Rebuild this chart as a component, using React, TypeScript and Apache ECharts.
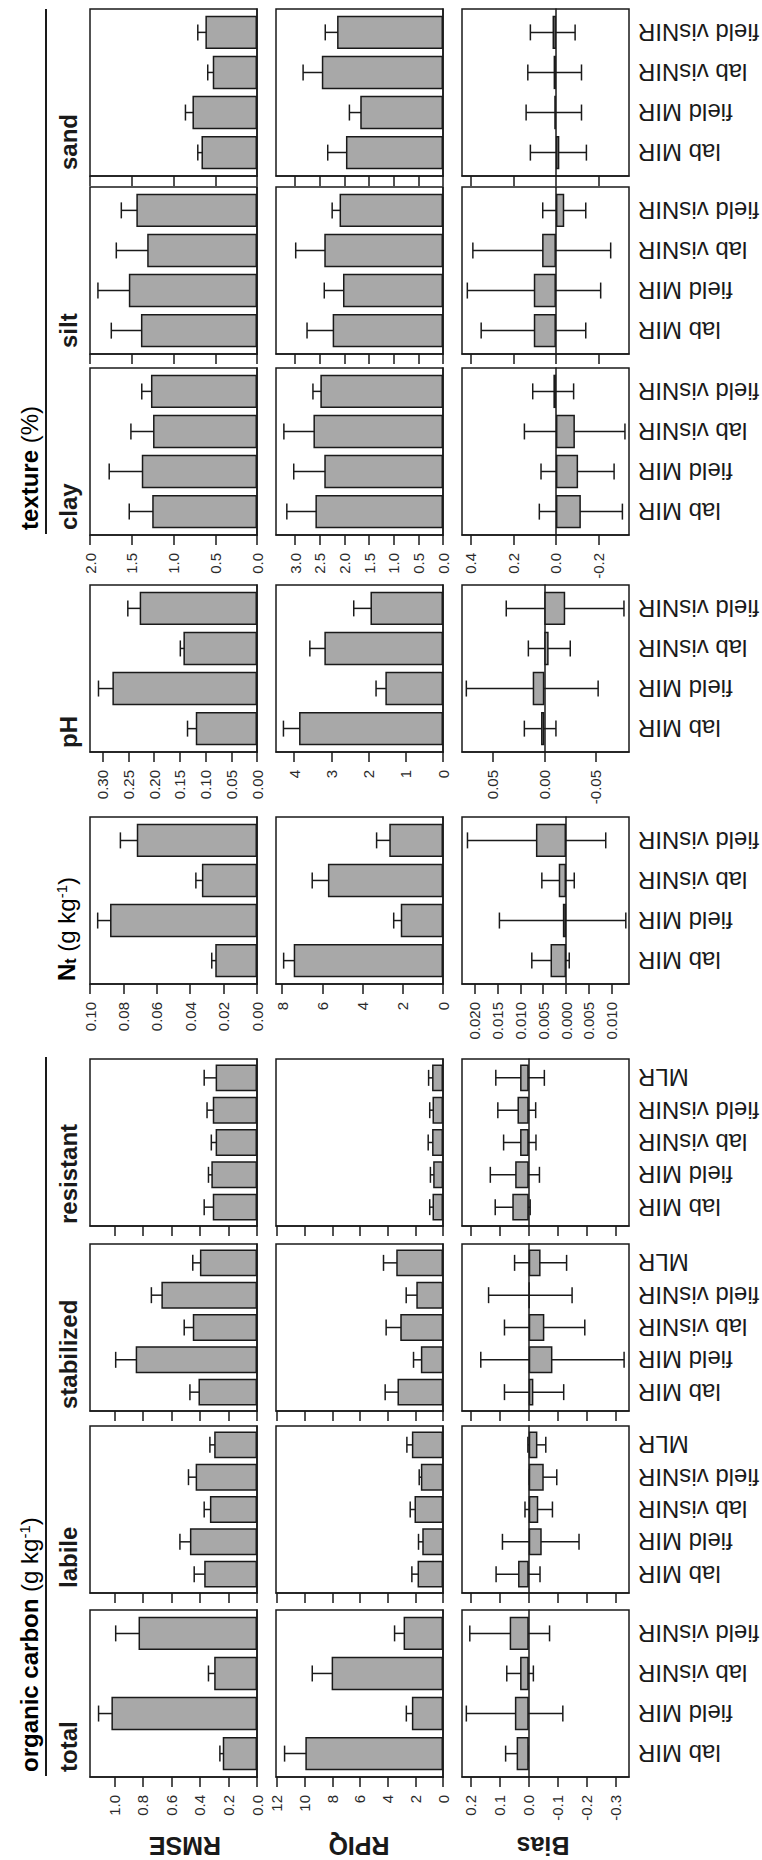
import React, { useEffect, useRef } from "react";
import * as echarts from "echarts";

const FONT = "'Liberation Sans', Arial, Helvetica, sans-serif";
const INK = "#1a1a1a";
const BAR = "#a8a8a8";

// ---------- categories ----------
const catsOC = ["lab MIR", "field MIR", "lab visNIR", "field visNIR", "MLR"];
const cats4 = ["lab MIR", "field MIR", "lab visNIR", "field visNIR"];

// ---------- organic carbon: total ----------
const totalRMSE = [0.24, 1.02, 0.3, 0.83];
const totalRMSEErr = [[0.21, 0.26], [0.93, 1.11], [0.25, 0.34], [0.68, 0.99]];
const totalRPIQ = [9.95, 2.25, 8.05, 2.85];
const totalRPIQErr = [[8.5, 11.45], [1.95, 2.65], [7.3, 9.45], [2.2, 3.5]];
const totalBias = [0.042, 0.048, 0.03, 0.066];
const totalBiasErr = [[0.003, 0.08], [-0.118, 0.216], [-0.016, 0.076], [-0.072, 0.204]];

// ---------- organic carbon: labile ----------
const labileRMSE = [0.37, 0.47, 0.33, 0.43, 0.3];
const labileRMSEErr = [[0.3, 0.44], [0.39, 0.54], [0.29, 0.37], [0.38, 0.48], [0.27, 0.33]];
const labileRPIQ = [1.84, 1.5, 2.06, 1.6, 2.25];
const labileRPIQErr = [[1.48, 2.25], [1.16, 1.77], [1.72, 2.37], [1.45, 1.72], [1.88, 2.61]];
const labileBias = [0.037, -0.045, -0.033, -0.052, -0.03];
const labileBiasErr = [[-0.039, 0.113], [-0.174, 0.091], [-0.082, 0.013], [-0.097, -0.002], [-0.059, 0.003]];

// ---------- organic carbon: stabilized ----------
const stabRMSE = [0.41, 0.85, 0.45, 0.67, 0.4];
const stabRMSEErr = [[0.34, 0.47], [0.71, 0.99], [0.39, 0.51], [0.61, 0.74], [0.35, 0.45]];
const stabRPIQ = [3.29, 1.6, 3.09, 1.93, 3.38];
const stabRPIQErr = [[2.37, 4.18], [1.09, 2.13], [1.93, 4.11], [1.28, 2.66], [2.3, 4.3]];
const stabBias = [-0.016, -0.082, -0.054, -0.003, -0.041];
const stabBiasErr = [[-0.121, 0.084], [-0.33, 0.166], [-0.194, 0.084], [-0.15, 0.139], [-0.131, 0.049]];

// ---------- organic carbon: resistant ----------
const resRMSE = [0.31, 0.32, 0.29, 0.31, 0.29];
const resRMSEErr = [[0.25, 0.37], [0.3, 0.34], [0.25, 0.32], [0.26, 0.35], [0.23, 0.37]];
const resRPIQ = [0.76, 0.71, 0.79, 0.76, 0.79];
const resRPIQErr = [[0.55, 0.96], [0.5, 0.91], [0.6, 1.07], [0.55, 0.96], [0.55, 1.04]];
const resBias = [0.057, 0.047, 0.03, 0.039, 0.03];
const resBiasErr = [[-0.005, 0.116], [-0.037, 0.133], [-0.025, 0.087], [-0.024, 0.107], [-0.054, 0.114]];

// ---------- total nitrogen ----------
const ntRMSE = [0.025, 0.088, 0.033, 0.072];
const ntRMSEErr = [[0.0236, 0.0271], [0.0806, 0.0954], [0.0297, 0.0366], [0.0628, 0.0818]];
const ntRPIQ = [7.42, 2.1, 5.72, 2.67];
const ntRPIQErr = [[6.93, 7.92], [1.83, 2.45], [4.93, 6.5], [2.08, 3.3]];
const ntBias = [0.0034, 0.0007, 0.0016, 0.0066];
const ntBiasErr = [[-0.0007, 0.0075], [-0.0131, 0.0146], [-0.0018, 0.0053], [-0.0087, 0.0216]];

// ---------- pH ----------
const phRMSE = [0.119, 0.281, 0.143, 0.228];
const phRMSEErr = [[0.101, 0.135], [0.254, 0.308], [0.136, 0.149], [0.206, 0.251]];
const phRPIQ = [3.87, 1.55, 3.19, 1.95];
const phRPIQErr = [[3.43, 4.29], [1.3, 1.8], [2.81, 3.58], [1.6, 2.4]];
const phBias = [0.0032, 0.0113, -0.0042, -0.0203];
const phBiasErr = [[-0.0113, 0.0194], [-0.0523, 0.0758], [-0.0252, 0.0155], [-0.0774, 0.037]];

// ---------- texture: clay ----------
const clayRMSE = [1.255, 1.38, 1.245, 1.27];
const clayRMSEErr = [[0.99, 1.53], [1.0, 1.77], [0.96, 1.51], [1.135, 1.38]];
const clayRPIQ = [2.59, 2.41, 2.63, 2.49];
const clayRPIQErr = [[2.01, 3.17], [1.8, 3.03], [2.03, 3.23], [2.35, 2.64]];
const clayBias = [-0.117, -0.104, -0.089, 0.012];
const clayBiasErr = [[-0.312, 0.078], [-0.273, 0.07], [-0.324, 0.148], [-0.083, 0.109]];

// ---------- texture: silt ----------
const siltRMSE = [1.39, 1.535, 1.315, 1.445];
const siltRMSEErr = [[1.05, 1.745], [1.155, 1.905], [0.95, 1.685], [1.255, 1.625]];
const siltRPIQ = [2.24, 2.03, 2.41, 2.1];
const siltRPIQErr = [[1.72, 2.76], [1.64, 2.41], [1.83, 2.99], [1.95, 2.25]];
const siltBias = [0.104, 0.104, 0.065, -0.039];
const siltBiasErr = [[-0.14, 0.351], [-0.21, 0.416], [-0.257, 0.39], [-0.14, 0.062]];

// ---------- texture: sand ----------
const sandRMSE = [0.665, 0.773, 0.53, 0.618];
const sandRMSEErr = [[0.61, 0.709], [0.685, 0.857], [0.47, 0.59], [0.498, 0.709]];
const sandRPIQ = [1.97, 1.68, 2.46, 2.15];
const sandRPIQErr = [[1.61, 2.34], [1.45, 1.9], [2.09, 2.84], [1.88, 2.39]];
const sandBias = [-0.016, 0.008, 0.011, 0.016];
const sandBiasErr = [[-0.143, 0.12], [-0.12, 0.14], [-0.12, 0.132], [-0.09, 0.12]];

// ---------- axis ticks and ranges ----------
const ocRmseTicks = [0, 0.2, 0.4, 0.6, 0.8, 1.0];
const ocRpiqTicks = [0, 2, 4, 6, 8, 10, 12];
const ocBiasTicks = [-0.3, -0.2, -0.1, 0, 0.1, 0.2];
const ntRmseTicks = [0, 0.02, 0.04, 0.06, 0.08, 0.1];
const ntRpiqTicks = [0, 2, 4, 6, 8];
const ntBiasTicks = [-0.01, -0.005, 0, 0.005, 0.01, 0.015, 0.02];
const phRmseTicks = [0, 0.05, 0.1, 0.15, 0.2, 0.25, 0.3];
const phRpiqTicks = [0, 1, 2, 3, 4];
const phBiasTicks = [-0.05, 0, 0.05];
const texRmseTicks = [0, 0.5, 1.0, 1.5, 2.0];
const texRpiqTicks = [0, 0.5, 1.0, 1.5, 2.0, 2.5, 3.0];
const texBiasTicks = [-0.2, 0, 0.2, 0.4];

const ocRanges = [[0, 1.17], [0, 12.07], [-0.347, 0.231]];
const ntRanges = [[0, 0.1], [0, 8.3], [-0.0138, 0.0228]];
const phRanges = [[0, 0.3245], [0, 4.49], [-0.0823, 0.08]];
const texRanges = [[0, 2.0], [0, 3.39], [-0.343, 0.441]];

const rowNames = ["RMSE", "RPIQ", "Bias"];

type AxisDef = { range: number[]; ticks: number[]; fmt: (v: number) => string };

const groups: Record<string, AxisDef[]> = {
  oc: [
    { range: ocRanges[0], ticks: ocRmseTicks, fmt: (v) => v.toFixed(1) },
    { range: ocRanges[1], ticks: ocRpiqTicks, fmt: (v) => v.toFixed(0) },
    { range: ocRanges[2], ticks: ocBiasTicks, fmt: (v) => v.toFixed(1) },
  ],
  nt: [
    { range: ntRanges[0], ticks: ntRmseTicks, fmt: (v) => v.toFixed(2) },
    { range: ntRanges[1], ticks: ntRpiqTicks, fmt: (v) => v.toFixed(0) },
    { range: ntRanges[2], ticks: ntBiasTicks, fmt: (v) => Math.abs(v).toFixed(3) },
  ],
  ph: [
    { range: phRanges[0], ticks: phRmseTicks, fmt: (v) => v.toFixed(2) },
    { range: phRanges[1], ticks: phRpiqTicks, fmt: (v) => v.toFixed(0) },
    { range: phRanges[2], ticks: phBiasTicks, fmt: (v) => v.toFixed(2) },
  ],
  tex: [
    { range: texRanges[0], ticks: texRmseTicks, fmt: (v) => v.toFixed(1) },
    { range: texRanges[1], ticks: texRpiqTicks, fmt: (v) => v.toFixed(1) },
    { range: texRanges[2], ticks: texBiasTicks, fmt: (v) => v.toFixed(1) },
  ],
};

type PanelDef = {
  cats: string[];
  group: string;
  labels: boolean;
  x: number;
  vals: number[][];
  errs: number[][][];
};

// layout (original landscape frame 1860 x 762, rotated afterwards)
const PANEL_W = 167;
const ROW_TOP = [90, 276, 462];
const ROW_H = 167;
const ROW_LABEL_Y = [185, 359, 543];

const panels: PanelDef[] = [
  { cats: cats4, group: "oc", labels: true, x: 83, vals: [totalRMSE, totalRPIQ, totalBias], errs: [totalRMSEErr, totalRPIQErr, totalBiasErr] },
  { cats: catsOC, group: "oc", labels: false, x: 267, vals: [labileRMSE, labileRPIQ, labileBias], errs: [labileRMSEErr, labileRPIQErr, labileBiasErr] },
  { cats: catsOC, group: "oc", labels: false, x: 449, vals: [stabRMSE, stabRPIQ, stabBias], errs: [stabRMSEErr, stabRPIQErr, stabBiasErr] },
  { cats: catsOC, group: "oc", labels: false, x: 634, vals: [resRMSE, resRPIQ, resBias], errs: [resRMSEErr, resRPIQErr, resBiasErr] },
  { cats: cats4, group: "nt", labels: true, x: 876, vals: [ntRMSE, ntRPIQ, ntBias], errs: [ntRMSEErr, ntRPIQErr, ntBiasErr] },
  { cats: cats4, group: "ph", labels: true, x: 1108, vals: [phRMSE, phRPIQ, phBias], errs: [phRMSEErr, phRPIQErr, phBiasErr] },
  { cats: cats4, group: "tex", labels: true, x: 1325, vals: [clayRMSE, clayRPIQ, clayBias], errs: [clayRMSEErr, clayRPIQErr, clayBiasErr] },
  { cats: cats4, group: "tex", labels: false, x: 1506, vals: [siltRMSE, siltRPIQ, siltBias], errs: [siltRMSEErr, siltRPIQErr, siltBiasErr] },
  { cats: cats4, group: "tex", labels: false, x: 1684, vals: [sandRMSE, sandRPIQ, sandBias], errs: [sandRMSEErr, sandRPIQErr, sandBiasErr] },
];

function errorRender(cap: number) {
  return (params: any, api: any) => {
    const i = api.value(0);
    const a = api.coord([i, api.value(1)]);
    const b = api.coord([i, api.value(2)]);
    const st = { stroke: INK, lineWidth: 1.5 };
    return {
      type: "group",
      children: [
        { type: "line", shape: { x1: a[0], y1: a[1], x2: b[0], y2: b[1] }, style: st },
        { type: "line", shape: { x1: a[0] - cap / 2, y1: a[1], x2: a[0] + cap / 2, y2: a[1] }, style: st },
        { type: "line", shape: { x1: b[0] - cap / 2, y1: b[1], x2: b[0] + cap / 2, y2: b[1] }, style: st },
      ],
    };
  };
}

function buildOption() {
  const grid: any[] = [];
  const xAxis: any[] = [];
  const yAxis: any[] = [];
  const series: any[] = [];

  panels.forEach((p) => {
    const n = p.cats.length;
    const u = PANEL_W / (1.2 * n + 0.2);
    for (let r = 0; r < 3; r++) {
      const ax = groups[p.group][r];
      // outer grid: box, y axis, zero line
      const gOuter = grid.length;
      grid.push({
        left: p.x, top: ROW_TOP[r], width: PANEL_W, height: ROW_H,
        show: true, borderColor: INK, borderWidth: 1.5, backgroundColor: "transparent",
        outerBoundsMode: "none", containLabel: false,
      });
      xAxis.push({
        gridIndex: gOuter, type: "value", min: 0, max: 1,
        axisLine: { show: true, onZero: true, lineStyle: { color: INK, width: 1.5 } },
        axisTick: { show: false }, axisLabel: { show: false }, splitLine: { show: false },
      });
      yAxis.push({
        gridIndex: gOuter, type: "value", min: ax.range[0], max: ax.range[1],
        axisLine: { show: true, onZero: false, lineStyle: { color: INK, width: 1.5 } },
        axisTick: { show: true, length: 10, inside: false, customValues: ax.ticks, lineStyle: { color: INK, width: 1.5 } },
        axisLabel: {
          show: p.labels, customValues: ax.ticks, formatter: ax.fmt,
          fontSize: 15, fontFamily: FONT, color: "#2a2a2a", margin: 18,
          showMinLabel: true, showMaxLabel: true,
        },
        splitLine: { show: false },
      });
      // inner grid: bars
      const gInner = grid.length;
      grid.push({
        left: p.x + 0.1 * u, top: ROW_TOP[r], width: 1.2 * n * u, height: ROW_H,
        show: false, outerBoundsMode: "none", containLabel: false,
      });
      const xi = xAxis.length;
      xAxis.push({
        gridIndex: gInner, type: "category", data: p.cats,
        axisLine: { show: false, onZero: false }, axisTick: { show: false },
        axisLabel: {
          show: r === 2, rotate: 90, interval: 0, fontSize: 24, fontFamily: FONT,
          color: INK, margin: 9,
        },
        splitLine: { show: false },
      });
      const yi = yAxis.length;
      yAxis.push({
        gridIndex: gInner, type: "value", min: ax.range[0], max: ax.range[1], show: false,
        splitLine: { show: false },
      });
      series.push({
        type: "bar", xAxisIndex: xi, yAxisIndex: yi, data: p.vals[r], barWidth: u,
        itemStyle: { color: BAR, borderColor: INK, borderWidth: 1.5 }, silent: true,
      });
      series.push({
        type: "custom", xAxisIndex: xi, yAxisIndex: yi, clip: false, silent: true,
        data: p.errs[r].map((e, k) => [k, e[0], e[1]]),
        encode: { x: 0, y: [1, 2] },
        renderItem: errorRender(16),
      });
    }
  });

  const bold = { fontSize: 24, fontWeight: "bold", fontFamily: FONT, fill: INK };
  const headRich = {
    b: { fontSize: 24, fontWeight: "bold", fontFamily: FONT, color: INK },
    r: { fontSize: 24, fontFamily: FONT, color: INK },
    s: { fontSize: 15, fontFamily: FONT, color: INK, verticalAlign: "top" },
    sub: { fontSize: 16, fontWeight: "bold", fontFamily: FONT, color: INK, verticalAlign: "bottom" },
  };

  const graphic: any[] = [];
  rowNames.forEach((t, r) => {
    graphic.push({
      type: "text", x: 14, y: ROW_LABEL_Y[r], rotation: Math.PI / 2,
      style: { text: t, fontSize: 25, fontWeight: "bold", fontFamily: FONT, fill: INK, align: "center", verticalAlign: "middle" },
    });
  });
  graphic.push(
    { type: "text", x: 88, y: 29, style: { text: "{b|organic carbon }{r|(g kg}{s|-1}{r|)}", rich: headRich, align: "left", verticalAlign: "middle" } },
    { type: "line", shape: { x1: 84, y1: 46, x2: 803, y2: 46 }, style: { stroke: INK, lineWidth: 2 } },
    { type: "text", x: 1330, y: 29, style: { text: "{b|texture }{r|(%)}", rich: headRich, align: "left", verticalAlign: "middle" } },
    { type: "line", shape: { x1: 1326, y1: 46, x2: 1851, y2: 46 }, style: { stroke: INK, lineWidth: 2 } },
    { type: "text", x: 88, y: 68, style: { ...bold, text: "total", align: "left", verticalAlign: "middle" } },
    { type: "text", x: 272, y: 68, style: { ...bold, text: "labile", align: "left", verticalAlign: "middle" } },
    { type: "text", x: 451, y: 68, style: { ...bold, text: "stabilized", align: "left", verticalAlign: "middle" } },
    { type: "text", x: 636, y: 68, style: { ...bold, text: "resistant", align: "left", verticalAlign: "middle" } },
    { type: "text", x: 879, y: 66, style: { text: "{b|N}{sub|t}{r| (g kg}{s|-1}{r|)}", rich: headRich, align: "left", verticalAlign: "middle" } },
    { type: "text", x: 1112, y: 68, style: { ...bold, text: "pH", align: "left", verticalAlign: "middle" } },
    { type: "text", x: 1330, y: 68, style: { ...bold, text: "clay", align: "left", verticalAlign: "middle" } },
    { type: "text", x: 1512, y: 68, style: { ...bold, text: "silt", align: "left", verticalAlign: "middle" } },
    { type: "text", x: 1690, y: 68, style: { ...bold, text: "sand", align: "left", verticalAlign: "middle" } },
  );

  return {
    animation: false,
    backgroundColor: "#ffffff",
    textStyle: { fontFamily: FONT },
    grid, xAxis, yAxis, series, graphic,
  };
}

export default function App() {
  const ref = useRef<HTMLDivElement>(null);
  useEffect(() => {
    if (!ref.current) return;
    const chart = echarts.init(ref.current, undefined, { renderer: "svg" });
    chart.setOption(buildOption() as any);
    return () => chart.dispose();
  }, []);
  return (
    <div style={{ position: "absolute", left: 0, top: 0, width: 762, height: 1860, overflow: "hidden", background: "#fff" }}>
      <div
        ref={ref}
        style={{
          position: "absolute", left: 0, top: 0, width: 1860, height: 762,
          transformOrigin: "0 0", transform: "translateY(1860px) rotate(-90deg)",
        }}
      />
    </div>
  );
}
